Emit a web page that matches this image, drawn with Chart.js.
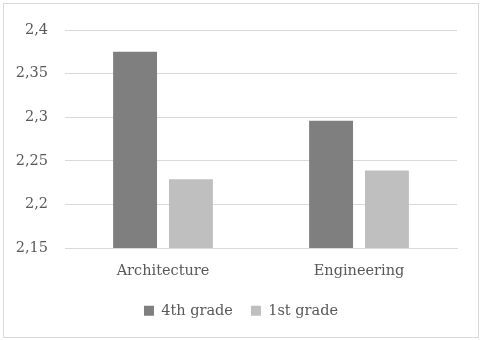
<!DOCTYPE html>
<html>
<head>
<meta charset="utf-8">
<script src="https://cdn.jsdelivr.net/npm/chart.js@4"></script>
<style>
  body { margin: 0; background: #fff; }
  #frame {
    position: absolute; left: 3px; top: 3px;
    width: 474px; height: 333px;
    border: 1px solid #d9d9d9;
  }
</style>
</head>
<body>
<div id="frame"><canvas id="chart" width="474" height="333"></canvas></div>
<script>
// chart data
const categories = ["Architecture", "Engineering"];
const fourthGrade = [2.375, 2.296];
const firstGrade = [2.229, 2.239];
const seriesNames = ["4th grade", "1st grade"];
const yMin = 2.15, yMax = 2.4, yStep = 0.05;

const fontFamily = "'DejaVu Serif', serif";
const textColor = "#595959";

const ctx = document.getElementById("chart");
new Chart(ctx, {
  type: "bar",
  data: {
    labels: categories,
    datasets: [
      { label: seriesNames[0], data: fourthGrade, backgroundColor: "#7f7f7f" },
      { label: seriesNames[1], data: firstGrade, backgroundColor: "#bfbfbf" },
    ],
  },
  options: {
    responsive: false,
    animation: false,
    layout: { padding: { left: 0, right: 0, top: 26, bottom: 9 } },
    datasets: { bar: { categoryPercentage: 0.57, barPercentage: 0.786 } },
    plugins: {
      tooltip: { enabled: false },
      legend: {
        position: "bottom",
        labels: {
          boxWidth: 10, boxHeight: 10, padding: 18,
          color: textColor,
          font: { family: fontFamily, size: 14.5 },
        },
      },
    },
    scales: {
      x: {
        // keep the plot clear of the right edge without shifting the legend
        afterFit: (scale) => { scale.paddingRight = 21; },
        grid: { display: false },
        border: { color: "#d9d9d9" },
        ticks: { color: textColor, font: { family: fontFamily, size: 14.5 }, padding: 6 },
      },
      y: {
        min: yMin, max: yMax,
        afterFit: (scale) => { scale.width = 61; },
        grid: { color: "#d9d9d9", drawTicks: false },
        border: { display: false },
        ticks: {
          stepSize: yStep,
          padding: 17,
          color: textColor,
          font: { family: fontFamily, size: 14.5 },
          callback: (v) => String(Math.round(v * 100) / 100).replace(".", ","),
        },
      },
    },
  },
});
</script>
</body>
</html>
